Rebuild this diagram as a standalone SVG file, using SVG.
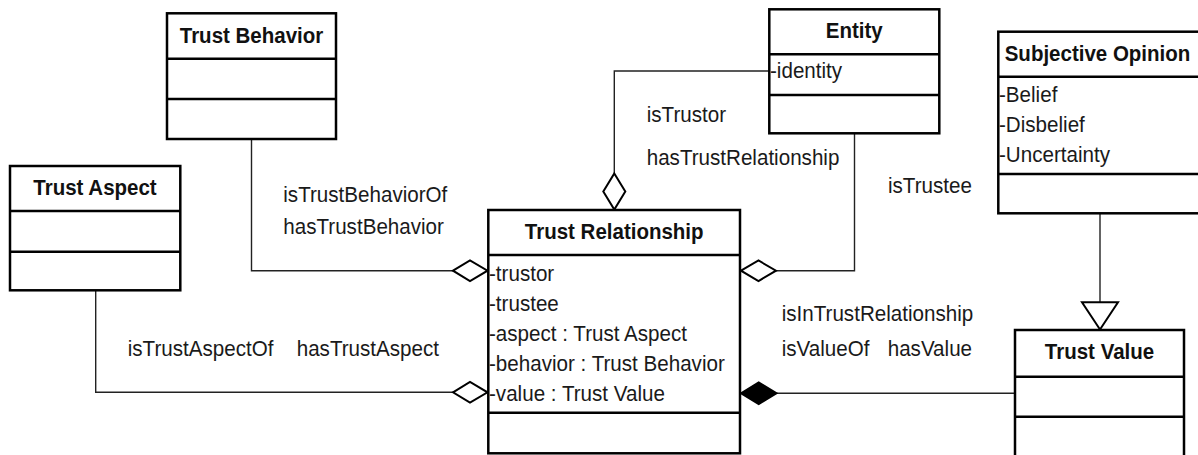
<svg xmlns="http://www.w3.org/2000/svg" width="1198" height="455" viewBox="0 0 1198 455">
<style>
.box{fill:#fff;stroke:#000;stroke-width:2.5}
.div{stroke:#000;stroke-width:2.5}
.t{font-family:"Liberation Sans",Arial,sans-serif;font-size:20.5px;font-weight:bold;fill:#111;text-anchor:middle}
.a{font-family:"Liberation Sans",Arial,sans-serif;font-size:20.6px;fill:#1a1a1a}
.c{fill:none;stroke:#222;stroke-width:1.4}
.od{fill:#fff;stroke:#000;stroke-width:2}
.fd{fill:#000;stroke:#000;stroke-width:2}
</style>
<rect width="1198" height="455" fill="#fff"/>
<g id="connectors">
  <path class="c" d="M251.5,139 V270.7 H453"/>
  <polygon class="od" points="453,270.7 470,260.5 487.5,270.7 470,281"/>
  <path class="c" d="M95.7,290 V392.3 H453"/>
  <polygon class="od" points="453,392.3 470,382 487.5,392.3 470,402.5"/>
  <path class="c" d="M769,71 H614.3 V173.5"/>
  <polygon class="od" points="614.3,173.5 625.3,191.5 614.3,209.5 603.3,191.5"/>
  <path class="c" d="M854.5,133.3 V270.7 H776"/>
  <polygon class="od" points="741,270.7 758.5,260.5 776,270.7 758.5,281"/>
  <path class="c" d="M1015,393.3 H776.5"/>
  <polygon class="fd" points="741,393.3 758.7,382.5 776.5,393.3 758.7,404"/>
  <path class="c" d="M1100,213 V302.3"/>
  <polygon class="od" points="1082,302.3 1118,302.3 1100,329.5"/>
</g>
<g id="trust-behavior">
  <rect class="box" x="167" y="13.3" width="169" height="125.7"/>
  <line class="div" x1="167" y1="58.7" x2="336" y2="58.7"/>
  <line class="div" x1="167" y1="99" x2="336" y2="99"/>
  <text class="t" transform="translate(251.5,43) scale(1,1.08)">Trust Behavior</text>
</g>
<g id="trust-aspect">
  <rect class="box" x="10" y="166" width="170.3" height="124.3"/>
  <line class="div" x1="10" y1="211" x2="180.3" y2="211"/>
  <line class="div" x1="10" y1="251.7" x2="180.3" y2="251.7"/>
  <text class="t" transform="translate(95,195) scale(1,1.08)">Trust Aspect</text>
</g>
<g id="entity">
  <rect class="box" x="769.3" y="9.3" width="170" height="124"/>
  <line class="div" x1="769.3" y1="54.3" x2="939.3" y2="54.3"/>
  <line class="div" x1="769.3" y1="95" x2="939.3" y2="95"/>
  <text class="t" transform="translate(854.3,38) scale(1,1.08)">Entity</text>
  <text class="a" transform="translate(770,78) scale(1,1.06)">-identity</text>
</g>
<g id="subjective-opinion">
  <rect class="box" x="998.3" y="31.7" width="210" height="181.6"/>
  <line class="div" x1="998.3" y1="76.7" x2="1208" y2="76.7"/>
  <line class="div" x1="998.3" y1="174" x2="1208" y2="174"/>
  <text class="t" transform="translate(1097.5,61) scale(1,1.08)">Subjective Opinion</text>
  <text class="a" transform="translate(999,101.5) scale(1,1.06)">-Belief</text>
  <text class="a" transform="translate(999,131.5) scale(1,1.06)">-Disbelief</text>
  <text class="a" transform="translate(999,161.5) scale(1,1.06)">-Uncertainty</text>
</g>
<g id="trust-relationship">
  <rect class="box" x="488.3" y="210" width="251.7" height="243.3"/>
  <line class="div" x1="488.3" y1="255" x2="740" y2="255"/>
  <line class="div" x1="488.3" y1="412.7" x2="740" y2="412.7"/>
  <text class="t" transform="translate(614.2,239.3) scale(1,1.08)">Trust Relationship</text>
  <text class="a" transform="translate(489,281) scale(1,1.06)">-trustor</text>
  <text class="a" transform="translate(489,311.3) scale(1,1.06)">-trustee</text>
  <text class="a" transform="translate(489,341) scale(1,1.06)">-aspect : Trust Aspect</text>
  <text class="a" transform="translate(489,371) scale(1,1.06)">-behavior : Trust Behavior</text>
  <text class="a" transform="translate(489,401.3) scale(1,1.06)">-value : Trust Value</text>
</g>
<g id="trust-value">
  <rect class="box" x="1015" y="330" width="169" height="140"/>
  <line class="div" x1="1015" y1="376.7" x2="1184" y2="376.7"/>
  <line class="div" x1="1015" y1="416.7" x2="1184" y2="416.7"/>
  <text class="t" transform="translate(1099.5,359) scale(1,1.08)">Trust Value</text>
</g>
<g id="labels">
  <text class="a" transform="translate(283.3,201.5) scale(1,1.06)">isTrustBehaviorOf</text>
  <text class="a" transform="translate(283.3,234) scale(1,1.06)">hasTrustBehavior</text>
  <text class="a" transform="translate(127.7,356) scale(1,1.06)">isTrustAspectOf</text>
  <text class="a" transform="translate(296.7,356) scale(1,1.06)">hasTrustAspect</text>
  <text class="a" transform="translate(646.7,121.7) scale(1,1.06)">isTrustor</text>
  <text class="a" transform="translate(646.7,164.5) scale(1,1.06)">hasTrustRelationship</text>
  <text class="a" transform="translate(888,193) scale(1,1.06)">isTrustee</text>
  <text class="a" transform="translate(781.7,321.3) scale(1,1.06)">isInTrustRelationship</text>
  <text class="a" transform="translate(781.7,356) scale(1,1.06)">isValueOf</text>
  <text class="a" transform="translate(887.7,356) scale(1,1.06)">hasValue</text>
</g>
</svg>
